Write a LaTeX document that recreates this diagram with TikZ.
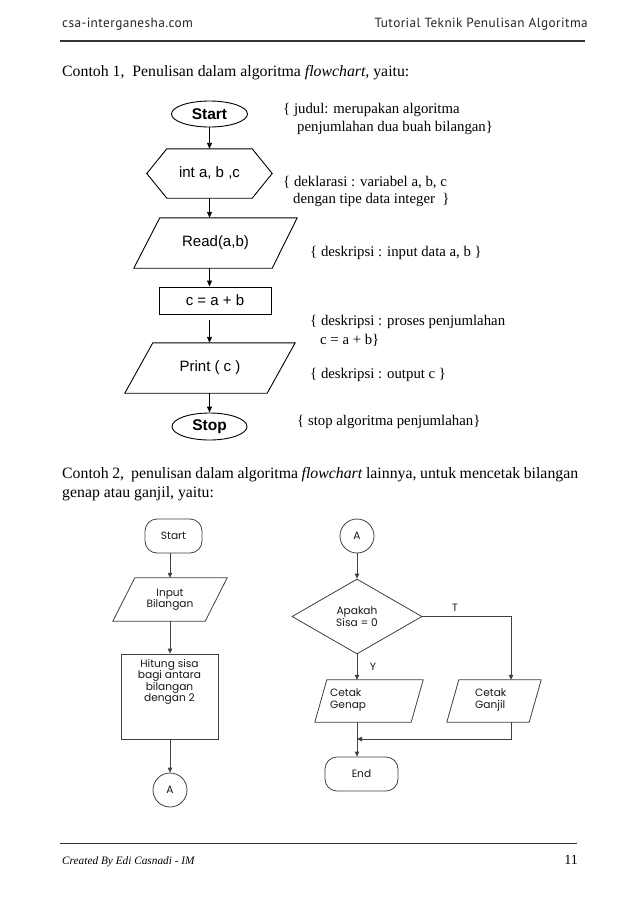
\documentclass[tikz,border=0pt]{standalone}
\usepackage{fontspec}
\setmainfont{Liberation Serif}
\newfontfamily\arialf{Liberation Sans}
\newfontfamily\gothf{Poppins}
\newfontfamily\headf[LetterSpace=3]{PT Sans}
\usetikzlibrary{shapes.geometric,arrows.meta}
\begin{document}
\begin{tikzpicture}[x=1pt,y=-1pt,
  fcone/.style={draw=none, inner sep=0pt, font=\arialf\fontsize{15}{18}\selectfont},
  lineone/.style={line width=0.9pt, black},
  arrone/.style={lineone, -{Triangle[length=6pt,width=5pt]}},
  linetwo/.style={draw=black!75, line width=0.8pt},
  arrtwo/.style={linetwo, -{Triangle[length=5pt,width=4.5pt]}},
  fctwo/.style={draw=none, inner sep=0pt, text=black!90, font=\gothf\fontsize{10.6}{12}\selectfont, align=center},
  note/.style={anchor=west, inner sep=0pt, font=\fontsize{14.8}{17}\selectfont},
  body/.style={inner sep=0pt, font=\fontsize{15.8}{19.5}\selectfont}]
\useasboundingbox (0,0) rectangle (638,903);
\fill[white] (0,0) rectangle (638,903);

% header
\node[anchor=base west, inner sep=0pt, font=\headf\fontsize{13.3}{15}\selectfont, text=black!85] (hl) at (62,27) {csa-interganesha.com};
\node[anchor=base east, inner sep=0pt, font=\headf\fontsize{13.3}{15}\selectfont, text=black!85] (hr) at (588,27) {Tutorial Teknik Penulisan Algoritma};
\draw[line width=1.2pt, black!80] (60,41) -- (585,41);

\node[body, anchor=west] (c1) at (62,73) {Contoh 1,\ \ Penulisan dalam algoritma \textit{flowchart,} yaitu:};

% flowchart 1
\node[ellipse, draw, lineone, minimum width=76pt, minimum height=26pt, inner sep=0pt, font=\arialf\bfseries\fontsize{15.5}{18}\selectfont] (start) at (209.5,114) {Start};
\node[fcone, minimum width=125pt, minimum height=49pt] (hex) at (209.5,173.5) {int a, b ,c};
\draw[lineone] (hex.west) -- ([xshift=20pt]hex.north west) -- ([xshift=-20pt]hex.north east) -- (hex.east) -- ([xshift=-20pt]hex.south east) -- ([xshift=20pt]hex.south west) -- cycle;
\node[fcone, minimum width=163pt, minimum height=50pt] (read) at (215.5,243) {Read(a,b)};
\draw[lineone] ([xshift=26pt]read.north west) -- (read.north east) -- ([xshift=-25pt]read.south east) -- (read.south west) -- cycle;
\node[fcone, draw, lineone, minimum width=112pt, minimum height=27pt] (cab) at (215,300.5) {c = a + b};
\node[fcone, minimum width=170pt, minimum height=50pt] (print) at (210,368) {Print ( c )};
\draw[lineone] ([xshift=28pt]print.north west) -- (print.north east) -- ([xshift=-28pt]print.south east) -- (print.south west) -- cycle;
\node[ellipse, draw, lineone, minimum width=75pt, minimum height=27pt, inner sep=0pt, font=\arialf\bfseries\fontsize{15.5}{18}\selectfont] (stop) at (209.5,426.5) {Stop};

\draw[arrone] (start.south) -- (hex.north);
\draw[arrone] (hex.south) -- (hex.south |- read.north);
\draw[arrone] (read.south -| start.south) -- (start.south |- cab.north);
\draw[arrone] ([yshift=-6pt]cab.south -| start.south) -- (start.south |- print.north);
\draw[arrone] (print.south -| start.south) -- (stop.north);

% notes
\node[note] (n1a) at (283,110) {\{\ judul: merupakan algoritma};
\node[note] (n1b) at (297,128) {penjumlahan dua buah bilangan\}};
\node[note] (n2a) at (283,182) {\{ deklarasi : variabel a, b, c};
\node[note] (n2b) at (293,200) {dengan tipe data integer\ \ \}};
\node[note] (n3) at (310,253) {\{\ deskripsi : input data a, b \}};
\node[note] (n4a) at (310,322) {\{\ deskripsi : proses penjumlahan};
\node[note] (n4b) at (320,340) {c = a + b\}};
\node[note] (n5) at (310,375) {\{\ deskripsi : output c\ \}};
\node[note] (n6) at (297,422) {\{\ stop algoritma penjumlahan\}};

% contoh 2 text
\node[body, anchor=north west, text width=516pt, align=justify] (c2) at (62,467) {Contoh 2,\ \ penulisan dalam algoritma \textit{flowchart} lainnya, untuk mencetak bilangan genap atau ganjil, yaitu:};

% flowchart 2 left
\node[fctwo, draw, linetwo, rounded corners=12pt, minimum width=57pt, minimum height=34pt] (s2) at (173.5,536) {Start};
\node[fctwo, minimum width=114pt, minimum height=43pt] (inp) at (170,599.5) {Input\\[-1pt]Bilangan};
\draw[linetwo] ([xshift=22pt]inp.north west) -- (inp.north east) -- ([xshift=-22pt]inp.south east) -- (inp.south west) -- cycle;
\node[fctwo, draw, linetwo, minimum width=97pt, minimum height=85pt] (hit) at (169.5,696.5) {};
\node[fctwo, anchor=north] (hitt) at (169.5,659) {Hitung sisa\\[-0.5pt]bagi antara\\[-0.5pt]bilangan\\[-0.5pt]dengan 2};
\node[fctwo, circle, draw, linetwo, minimum size=34pt] (a1) at (170,790) {A};

\draw[arrtwo] (s2.south -| inp.north) -- (inp.north);
\draw[arrtwo] (inp.south) -- (inp.south |- hit.north);
\draw[arrtwo] (inp.south |- hit.south) -- (a1.north);

% flowchart 2 right
\node[fctwo, circle, draw, linetwo, minimum size=34pt] (a2) at (357,536) {A};
\node[fctwo, diamond, draw, linetwo, minimum width=130pt, minimum height=75pt] (dia) at (357,616.5) {};
\node[fctwo] (diat) at (357,617) {Apakah\\[0pt]Sisa = 0};
\node[fctwo, minimum width=108pt, minimum height=42pt] (gen) at (369,701) {};
\draw[linetwo] ([xshift=12pt]gen.north west) -- (gen.north east) -- ([xshift=-12pt]gen.south east) -- (gen.south west) -- cycle;
\node[fctwo, align=left, anchor=west] (gent) at (330,700) {Cetak\\[0pt]Genap};
\node[fctwo, minimum width=94pt, minimum height=42pt] (gan) at (494,701) {};
\draw[linetwo] ([xshift=12pt]gan.north west) -- (gan.north east) -- ([xshift=-12pt]gan.south east) -- (gan.south west) -- cycle;
\node[fctwo, align=left, anchor=west] (gant) at (475,700) {Cetak\\[0pt]Ganjil};
\node[fctwo, draw, linetwo, rounded corners=12pt, minimum width=73pt, minimum height=34pt] (end) at (361.5,774) {End};
\coordinate (tc) at (511,616.5);
\coordinate (mc) at (511,739);
\coordinate (mj) at (357,739);

\draw[arrtwo] (a2.south) -- (dia.north);
\draw[arrtwo] (dia.south) -- (dia.south |- gen.north);
\draw[arrtwo] (dia.east) -- (tc) -- (tc |- gan.north);
\draw[arrtwo] (dia.south |- gen.south) -- (dia.south |- end.north);
\draw[arrtwo] (tc |- gan.south) -- (mc) -- (mj);
\node[fctwo] (tl) at (455,608) {T};
\node[fctwo] (yl) at (373,667) {Y};

% footer
\draw[line width=1pt, black!80] (60,843) -- (577,843);
\node[anchor=base west, inner sep=0pt, font=\itshape\fontsize{11.3}{13}\selectfont] (fl) at (62,864) {Created By Edi Casnadi - IM};
\node[anchor=base east, inner sep=0pt, font=\fontsize{14}{15}\selectfont] (fr) at (578,864) {11};
\end{tikzpicture}
\end{document}
